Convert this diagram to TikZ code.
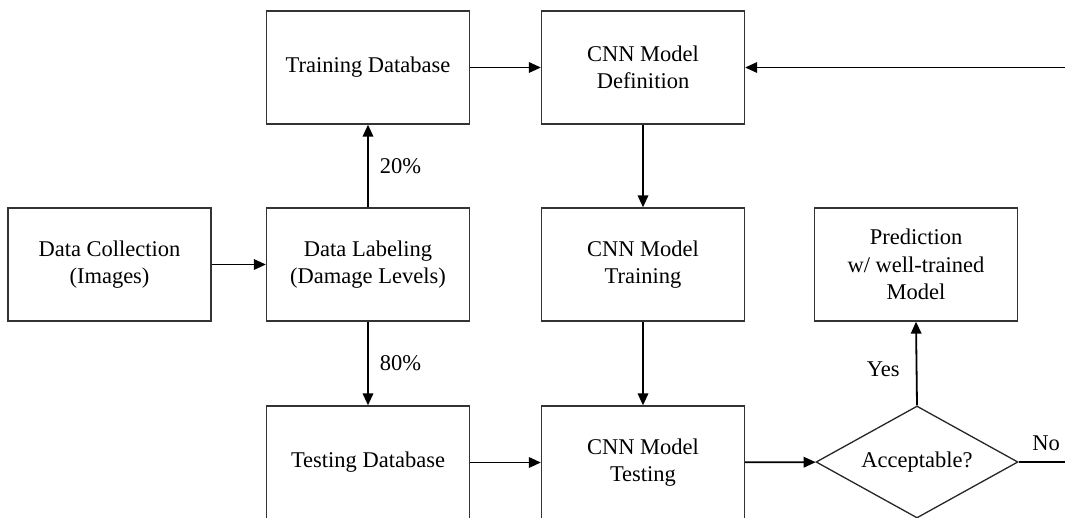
\documentclass[tikz,border=0pt]{standalone}
\usepackage{fontspec}
\setmainfont{Liberation Serif}
\usetikzlibrary{shapes.geometric,arrows.meta}
\begin{document}
\begin{tikzpicture}[x=1pt,y=-1pt,
  txt/.style={font=\fontsize{22.5}{27.5}\selectfont},
  box/.style={txt, draw=black!80, line width=1.3pt, minimum width=203pt,
    minimum height=113pt, inner sep=0pt, align=center},
  decision/.style={txt, diamond, draw=black!85, line width=1.3pt, aspect=1.8,
    minimum width=202pt, minimum height=112pt, inner sep=0pt},
  link/.style={line width=1.8pt},
  flow/.style={link, -{Triangle[length=12pt,width=10.5pt]}},
  lbl/.style={txt, inner sep=0pt}]
\useasboundingbox (0,0) rectangle (1065,517);

% process boxes
\node[box] (collect) at (109.5,264.5) {Data Collection\\(Images)};
\node[box] (label)   at (368,264.5)   {Data Labeling\\(Damage Levels)};
\node[box] (traindb) at (368,67.5)    {Training Database};
\node[box] (testdb)  at (368,462.5)   {Testing Database};
\node[box] (define)  at (643,67.5)    {CNN Model\\Definition};
\node[box] (train)   at (643,264.5)   {CNN Model\\Training};
\node[box] (test)    at (643,462.5)   {CNN Model\\Testing};
\node[box] (predict) at (916,264.5)   {Prediction\\w/ well-trained\\Model};
\node[decision] (accept) at (917,462) {Acceptable?};

% loose ends of the feedback loop
\coordinate (loopin)  at (1065,67.5);
\coordinate (loopout) at (1065,462);

% connectors
\draw[flow] (collect) -- (label);
\draw[flow] (label) -- (traindb) node[lbl, midway, right=11pt] {20\%};
\draw[flow] (label) -- (testdb) node[lbl, midway, right=11pt] {80\%};
\draw[flow] (traindb) -- (define);
\draw[flow] (loopin) -- (define.east);
\draw[flow] (define) -- (train);
\draw[flow] (train) -- (test);
\draw[flow] (testdb) -- (test);
\draw[flow] (test) -- (accept);
\draw[flow] (accept.north) -- (predict.south)
  node[lbl, pos=0.43, left=16pt] {Yes};
\draw[link] (accept.east) -- (loopout)
  node[lbl, pos=0.59, above=10pt] {No};
\end{tikzpicture}
\end{document}
